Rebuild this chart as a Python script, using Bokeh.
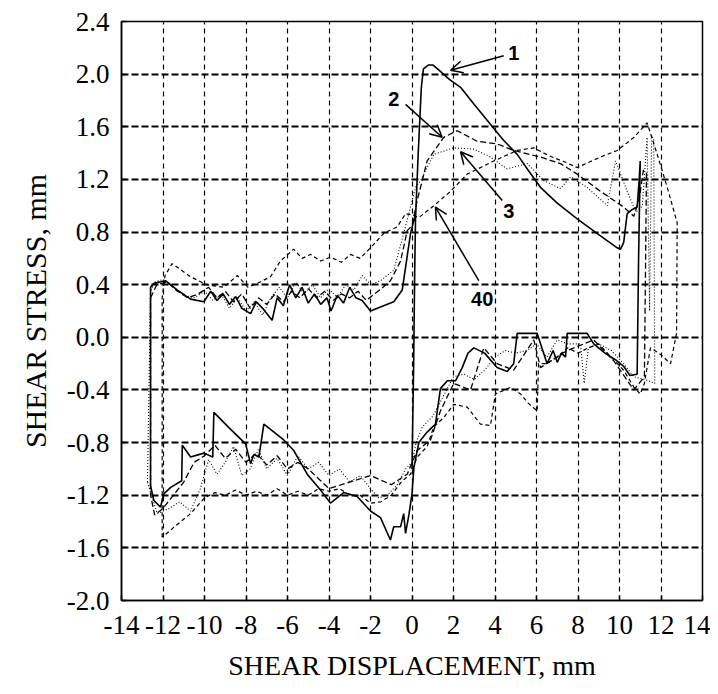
from bokeh.plotting import figure
from bokeh.models import Range1d, FixedTicker, PrintfTickFormatter, Arrow, OpenHead
from bokeh.core.properties import value
from bokeh.embed import file_html
from bokeh.resources import INLINE

# ---------------- data ----------------
x_ticks = [-14, -12, -10, -8, -6, -4, -2, 0, 2, 4, 6, 8, 10, 12, 14]
y_ticks = [-2.0, -1.6, -1.2, -0.8, -0.4, 0.0, 0.4, 0.8, 1.2, 1.6, 2.0, 2.4]

# cycle 1 (solid)
cycle1 = [(0.0, -1.0), (0.08, -0.2), (0.13, 0.5), (0.17, 0.9), (0.3, 1.4), (0.45, 1.9), (0.55, 2.04),
          (0.8, 2.07), (1.0, 2.07), (1.3, 2.03), (1.8, 1.96), (2.34, 1.90), (3.0, 1.77), (3.78, 1.62),
          (4.4, 1.5), (5.07, 1.39), (5.6, 1.27), (6.19, 1.14), (7.0, 1.02), (7.96, 0.90), (9.0, 0.78),
          (9.89, 0.68), (10.05, 0.67), (10.2, 0.72), (10.37, 0.94), (10.6, 0.97), (10.85, 0.99),
          (10.95, 1.2), (11.0, 1.34), (10.92, 0.6), (10.85, -0.28), (10.5, -0.29), (10.2, -0.22),
          (9.8, -0.17), (9.3, -0.12), (8.76, -0.05), (8.44, 0.03), (7.48, 0.03), (7.4, -0.15),
          (7.2, -0.12), (7.0, -0.19), (6.8, -0.1), (6.51, -0.2), (6.03, 0.03), (5.07, 0.03),
          (4.9, -0.2), (4.59, -0.26), (4.1, -0.23), (3.5, -0.12), (2.98, -0.08), (2.7, -0.12),
          (2.42, -0.23), (2.1, -0.33), (1.7, -0.33), (1.37, -0.39), (1.13, -0.66), (0.73, -0.72),
          (0.33, -0.8), (0.09, -0.99), (0.0, -1.19), (-0.15, -1.35), (-0.31, -1.49), (-0.4, -1.34),
          (-0.55, -1.44), (-0.88, -1.44), (-1.04, -1.54), (-1.52, -1.37), (-2.0, -1.32), (-2.64, -1.21),
          (-3.29, -1.18), (-3.93, -1.26), (-4.41, -1.16), (-5.05, -1.04), (-5.7, -0.86), (-6.18, -0.78),
          (-7.14, -0.66), (-7.38, -0.91), (-7.62, -0.89), (-7.78, -0.96), (-8.02, -0.81), (-8.8, -0.69),
          (-9.55, -0.57), (-9.6, -0.91), (-10.03, -0.88), (-10.67, -0.91), (-11.07, -0.82),
          (-11.1, -1.09), (-11.63, -1.14), (-11.96, -1.19), (-12.12, -1.29), (-12.44, -1.24),
          (-12.6, -1.13), (-12.6, 0.38), (-12.44, 0.41), (-11.88, 0.43), (-11.32, 0.36),
          (-10.67, 0.29), (-10.03, 0.27), (-9.7, 0.35), (-9.4, 0.28), (-9.1, 0.33), (-8.8, 0.25),
          (-8.5, 0.31), (-8.2, 0.22), (-7.78, 0.18), (-7.5, 0.27), (-7.2, 0.22), (-6.74, 0.13),
          (-6.5, 0.3), (-6.2, 0.24), (-5.9, 0.4), (-5.6, 0.3), (-5.3, 0.38), (-5.0, 0.26), (-4.7, 0.33),
          (-4.4, 0.25), (-4.1, 0.3), (-3.9, 0.2), (-3.6, 0.32), (-3.3, 0.26), (-3.0, 0.38), (-2.7, 0.3),
          (-2.4, 0.28), (-2.0, 0.2), (-1.52, 0.23), (-0.88, 0.27), (-0.47, 0.36), (-0.07, 0.79),
          (0.17, 0.94)]

# cycle 2 (dashed)
cycle2 = [(-12.6, 0.3), (-12.3, 0.4), (-11.8, 0.42), (-11.3, 0.35), (-10.8, 0.3), (-10.3, 0.33),
          (-9.8, 0.38), (-9.4, 0.3), (-9.0, 0.35), (-8.6, 0.27), (-8.2, 0.33), (-7.8, 0.22), (-7.4, 0.3),
          (-7.0, 0.25), (-6.6, 0.33), (-6.2, 0.27), (-5.8, 0.35), (-5.4, 0.3), (-5.0, 0.37), (-4.6, 0.3),
          (-4.2, 0.35), (-3.8, 0.28), (-3.4, 0.33), (-3.0, 0.3), (-2.6, 0.35), (-2.2, 0.28), (-1.8, 0.33),
          (-1.4, 0.38), (-1.04, 0.43), (-0.55, 0.58), (-0.23, 0.81), (0.0, 0.85), (0.25, 1.04),
          (0.73, 1.34), (1.53, 1.52), (2.18, 1.57), (3.14, 1.49), (4.1, 1.47), (4.9, 1.42), (6.19, 1.37),
          (7.16, 1.32), (7.96, 1.24), (9.08, 1.11), (10.2, 0.99), (10.69, 0.92), (10.95, 1.05),
          (11.15, 1.27), (11.3, 1.25), (11.2, -0.3), (10.69, -0.40), (9.73, -0.18), (8.76, -0.02),
          (7.48, -0.10), (6.19, -0.23), (5.87, -0.02), (4.9, -0.25), (4.1, -0.2), (3.46, -0.08),
          (2.82, -0.40), (2.01, -0.35), (1.37, -0.56), (0.89, -0.78), (0.25, -0.86), (-0.23, -1.04),
          (-1.0, -1.12), (-2.0, -1.05), (-3.0, -1.1), (-4.0, -1.15), (-5.0, -1.0), (-5.5, -0.95),
          (-6.0, -1.0), (-6.5, -0.9), (-7.0, -0.97), (-7.5, -0.88), (-8.0, -0.95), (-8.5, -0.85),
          (-9.0, -0.92), (-9.5, -0.82), (-10.0, -0.9), (-10.5, -0.95), (-11.0, -1.1), (-11.5, -1.2),
          (-12.0, -1.3), (-12.4, -1.35), (-12.6, -1.2), (-12.6, 0.3)]

# cycle 3 (dotted)
cycle3 = [(-12.75, -1.1), (-12.6, 0.35), (-12.4, 0.42), (-12.0, 0.44), (-11.5, 0.38), (-11.0, 0.32),
          (-10.5, 0.3), (-10.0, 0.35), (-9.6, 0.28), (-9.2, 0.33), (-8.8, 0.22), (-8.4, 0.3), (-8.0, 0.2),
          (-7.6, 0.27), (-7.2, 0.17), (-6.8, 0.3), (-6.4, 0.38), (-6.0, 0.3), (-5.6, 0.42), (-5.2, 0.33),
          (-4.8, 0.4), (-4.4, 0.3), (-4.0, 0.37), (-3.6, 0.3), (-3.2, 0.4), (-2.8, 0.36), (-2.4, 0.47),
          (-2.0, 0.4), (-1.52, 0.43), (-0.88, 0.51), (-0.4, 0.79), (-0.07, 0.99), (0.17, 1.14),
          (0.41, 1.19), (1.05, 1.39), (2.01, 1.44), (2.98, 1.43), (3.78, 1.37), (4.59, 1.28),
          (5.55, 1.32), (6.35, 1.19), (7.16, 1.13), (7.64, 1.22), (8.44, 1.14), (9.41, 1.0),
          (9.81, 1.34), (10.37, 1.11), (10.8, 0.95), (11.1, 1.0), (11.33, 1.52), (11.45, 0.2),
          (11.55, 1.54), (11.65, 1.5), (11.7, -0.35), (11.4, -0.33), (10.69, -0.3), (10.2, -0.2),
          (9.6, -0.1), (9.0, -0.05), (8.5, -0.08), (8.3, -0.35), (8.12, -0.05), (7.5, -0.05),
          (7.0, -0.02), (6.5, -0.15), (6.0, -0.05), (5.55, -0.1), (5.0, -0.12), (4.5, -0.1),
          (4.0, -0.15), (3.5, -0.25), (3.0, -0.32), (2.5, -0.28), (2.0, -0.3), (1.5, -0.45),
          (1.0, -0.6), (0.5, -0.68), (0.2, -0.8), (0.0, -0.95), (-0.3, -1.0), (-0.7, -1.12),
          (-1.2, -1.2), (-1.6, -1.22), (-2.0, -1.15), (-2.5, -1.05), (-3.0, -1.1), (-3.5, -1.0),
          (-4.0, -1.05), (-4.5, -0.95), (-5.0, -1.0), (-5.5, -0.9), (-6.0, -1.05), (-6.5, -0.92),
          (-7.0, -1.0), (-7.4, -0.85), (-7.8, -1.0), (-8.2, -1.05), (-8.6, -0.83), (-9.0, -0.95),
          (-9.4, -1.04), (-9.8, -0.93), (-10.2, -1.15), (-10.67, -1.32), (-11.2, -1.25),
          (-11.7, -1.3), (-12.28, -1.34), (-12.75, -1.1)]

# cycle 40 (short dashes)
cycle40 = [(-12.04, -1.52), (-12.04, 0.3), (-11.9, 0.47), (-11.56, 0.56), (-10.67, 0.46), (-9.9, 0.4),
           (-9.07, 0.38), (-8.42, 0.47), (-7.9, 0.38), (-7.46, 0.41), (-6.82, 0.46), (-6.34, 0.58),
           (-5.7, 0.67), (-5.3, 0.6), (-4.89, 0.63), (-4.4, 0.58), (-3.93, 0.61), (-3.4, 0.57),
           (-2.96, 0.63), (-2.5, 0.6), (-2.0, 0.68), (-1.36, 0.79), (-0.71, 0.84), (-0.31, 0.94),
           (0.0, 0.93), (0.33, 0.91), (1.05, 1.0), (1.86, 1.11), (2.66, 1.24), (3.94, 1.34),
           (5.07, 1.42), (5.87, 1.44), (6.6, 1.38), (7.4, 1.33), (7.96, 1.29), (9.08, 1.37),
           (9.89, 1.42), (10.7, 1.52), (11.33, 1.63), (11.8, 1.4), (12.3, 1.14), (12.78, 0.87),
           (12.75, 0.03), (12.46, -0.2), (11.98, -0.13), (11.49, -0.08), (11.2, -0.35), (11.0, -0.43),
           (10.7, -0.38), (10.2, -0.25), (9.6, -0.15), (9.0, -0.05), (8.5, -0.08), (8.0, -0.12),
           (7.5, -0.08), (7.0, -0.15), (6.5, -0.2), (6.1, -0.2), (6.03, -0.56), (5.6, -0.5),
           (5.23, -0.43), (4.75, -0.38), (4.02, -0.43), (3.78, -0.67), (3.3, -0.66), (2.66, -0.53),
           (2.01, -0.51), (1.53, -0.61), (1.05, -0.68), (0.73, -0.83), (0.25, -0.91), (-0.07, -1.04),
           (-0.47, -1.09), (-1.0, -1.2), (-1.5, -1.25), (-2.0, -1.26), (-2.5, -1.2), (-3.0, -1.2),
           (-3.5, -1.15), (-4.0, -1.17), (-4.5, -1.15), (-5.0, -1.2), (-5.5, -1.17), (-6.0, -1.2),
           (-6.5, -1.15), (-7.0, -1.2), (-7.5, -1.17), (-8.0, -1.2), (-8.5, -1.16), (-9.0, -1.2),
           (-9.5, -1.18), (-10.0, -1.22), (-10.67, -1.34), (-11.3, -1.42), (-12.04, -1.52)]

# cycle labels and their arrows
label_text = ["1", "2", "3", "40"]
label_x = [4.91, -0.88, 4.67, 3.38]
label_y = [2.16, 1.81, 0.96, 0.29]
arrow_x0 = [4.42, -0.31, 4.35, 3.22]
arrow_y0 = [2.14, 1.77, 1.04, 0.43]
arrow_x1 = [1.86, 1.45, 2.34, 1.13]
arrow_y1 = [2.03, 1.52, 1.41, 0.99]

# ---------------- figure ----------------
p = figure(frame_width=581, frame_height=579,
           x_range=Range1d(-14, 14), y_range=Range1d(-2.0, 2.4),
           output_backend="svg", toolbar_location=None,
           min_border_left=121, min_border_right=8, min_border_top=21, min_border_bottom=80,
           x_axis_label="SHEAR DISPLACEMENT, mm", y_axis_label="SHEAR STRESS, mm")
p.background_fill_color = "white"
p.border_fill_color = "white"
p.outline_line_color = "black"
p.outline_line_width = 1.5
p.outline_line_alpha = 1.0

p.xaxis.ticker = FixedTicker(ticks=x_ticks)
p.yaxis.ticker = FixedTicker(ticks=y_ticks)
p.xaxis.formatter = PrintfTickFormatter(format="%d")
p.yaxis.formatter = PrintfTickFormatter(format="%.1f")
p.xgrid.ticker = FixedTicker(ticks=x_ticks)
p.ygrid.ticker = FixedTicker(ticks=y_ticks)

for ax in (p.xaxis[0], p.yaxis[0]):
    ax.major_label_text_font = "Liberation Serif"
    ax.major_label_text_font_size = "27px"
    ax.major_label_text_color = "black"
    ax.axis_label_text_font = "Liberation Serif"
    ax.axis_label_text_font_size = "28px"
    ax.axis_label_text_font_style = "normal"
    ax.axis_label_text_color = "black"
    ax.axis_line_color = "black"
    ax.axis_line_width = 1.5
    ax.major_tick_in = 5
    ax.major_tick_out = 0
    ax.major_tick_line_color = "black"
    ax.major_tick_line_width = 1.5
    ax.minor_tick_line_color = None

p.yaxis.axis_label_text_font_size = "30px"
p.xaxis.major_label_standoff = 15
p.xaxis.axis_label_standoff = 13
p.yaxis.major_label_standoff = 12
p.yaxis.axis_label_standoff = 12

p.xgrid.grid_line_color = "black"
p.xgrid.grid_line_width = 1.2
p.xgrid.grid_line_dash = "5 4"
p.ygrid.grid_line_color = "black"
p.ygrid.grid_line_width = 1.8
p.ygrid.grid_line_dash = "7 3"

def xs(c):
    return [pt[0] for pt in c]

def ys(c):
    return [pt[1] for pt in c]

p.line(xs(cycle1), ys(cycle1), line_color="black", line_width=1.6)
p.line(xs(cycle2), ys(cycle2), line_color="black", line_width=1.3, line_dash="6 3")
p.line(xs(cycle3), ys(cycle3), line_color="black", line_width=1.1, line_dash="1 2")
p.line(xs(cycle40), ys(cycle40), line_color="black", line_width=1.2, line_dash="4 3")

for x0, y0, x1, y1 in zip(arrow_x0, arrow_y0, arrow_x1, arrow_y1):
    p.add_layout(Arrow(end=OpenHead(size=12, line_width=1.5, line_color="black"),
                       x_start=x0, y_start=y0, x_end=x1, y_end=y1,
                       line_width=1.5, line_color="black"))

p.text(x=label_x, y=label_y, text=label_text, text_font=value("Liberation Sans"),
       text_font_style="bold", text_font_size="20px", text_align="center",
       text_baseline="middle", text_color="black")

open("out.html", "w").write(file_html(p, INLINE))
